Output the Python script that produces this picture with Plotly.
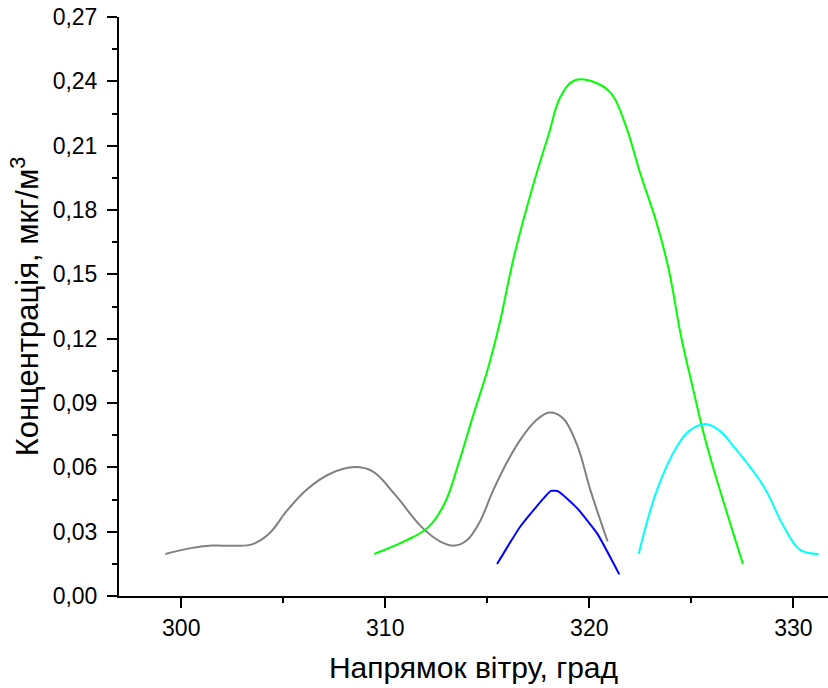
import plotly.graph_objects as go

# Wind direction (degrees) and concentration (µg/m³) for each series
gray_x = [299.22, 300.4, 301.5, 302.6, 303.5, 304.3, 305.2, 306.2, 307.3, 308.5,
          309.4, 310.5, 311.8, 312.7, 313.4, 314.0, 314.6, 315.3, 316.0, 316.7,
          317.4, 318.05, 318.7, 319.4, 320.05, 320.9]
gray_y = [0.0196, 0.0222, 0.0235, 0.0234, 0.0242, 0.029, 0.040, 0.050, 0.057, 0.0601,
          0.058, 0.047, 0.032, 0.0254, 0.0235, 0.026, 0.034, 0.0495, 0.063, 0.074,
          0.082, 0.0856, 0.083, 0.0705, 0.0495, 0.0254]

green_x = [309.46, 311.0, 312.1, 312.9, 313.6, 314.3, 315.0, 315.6, 316.3, 317.2,
           318.0, 318.6, 319.3, 320.4, 321.1, 321.8, 322.5, 323.3, 323.9, 324.5,
           325.1, 325.6, 326.1, 327.53]
green_y = [0.0196, 0.0258, 0.032, 0.043, 0.062, 0.084, 0.105, 0.127, 0.158, 0.19,
           0.215, 0.233, 0.2405, 0.239, 0.234, 0.219, 0.197, 0.174, 0.152, 0.121,
           0.096, 0.076, 0.059, 0.0149]

blue_x = [315.48, 316.62, 318.12, 318.5, 319.4, 320.38, 321.47]
blue_y = [0.0149, 0.0324, 0.049, 0.0487, 0.041, 0.0293, 0.0101]

cyan_x = [322.42, 323.32, 324.3, 324.9, 325.69, 326.4, 327.07, 328.55, 329.53, 330.34, 331.24]
cyan_y = [0.0196, 0.0495, 0.0698, 0.077, 0.0802, 0.077, 0.0698, 0.0511, 0.0324, 0.0215, 0.0196]

y_ticks = [0.0, 0.03, 0.06, 0.09, 0.12, 0.15, 0.18, 0.21, 0.24, 0.27]
x_ticks = [300, 310, 320, 330]

series = [
    (gray_x, gray_y, "#808080", 1.1),
    (green_x, green_y, "#00FF00", 1.1),
    (blue_x, blue_y, "#0000FF", 0.4),
    (cyan_x, cyan_y, "#00FFFF", 1.1),
]

fig = go.Figure()
for xs, ys, color, smooth in series:
    fig.add_trace(go.Scatter(
        x=xs, y=ys, mode="lines",
        line=dict(color=color, width=2, shape="spline", smoothing=smooth),
        showlegend=False, hoverinfo="skip",
    ))

font_family = "Liberation Sans, Arial, sans-serif"

fig.update_layout(
    width=828, height=688,
    margin=dict(l=119, r=0, t=17, b=92),
    paper_bgcolor="white", plot_bgcolor="white",
    separators=",.",
    font=dict(family=font_family, size=23, color="black"),
    xaxis=dict(
        range=[296.95, 331.7],
        tickmode="array", tickvals=x_ticks,
        ticks="outside", ticklen=10, tickwidth=2, tickcolor="black",
        showline=True, linecolor="black", linewidth=2,
        showgrid=False, zeroline=False,
        tickfont=dict(size=23),
        minor=dict(dtick=5, tick0=295, ticks="outside", ticklen=5, tickwidth=2, tickcolor="black"),
        title=dict(text="Напрямок вітру, град", font=dict(size=30), standoff=17),
    ),
    yaxis=dict(
        range=[0, 0.27],
        tickmode="array", tickvals=y_ticks, tickformat=".2f",
        ticks="outside", ticklen=10, tickwidth=2, tickcolor="black",
        showline=True, linecolor="black", linewidth=2,
        showgrid=False, zeroline=False,
        tickfont=dict(size=23),
        ticklabelstandoff=5,
        minor=dict(dtick=0.015, tick0=0, ticks="outside", ticklen=5, tickwidth=2, tickcolor="black"),
        title=dict(text="Концентрація, мкг/м<sup>3</sup>", font=dict(size=31), standoff=5),
    ),
)

fig.write_html("out.html")
